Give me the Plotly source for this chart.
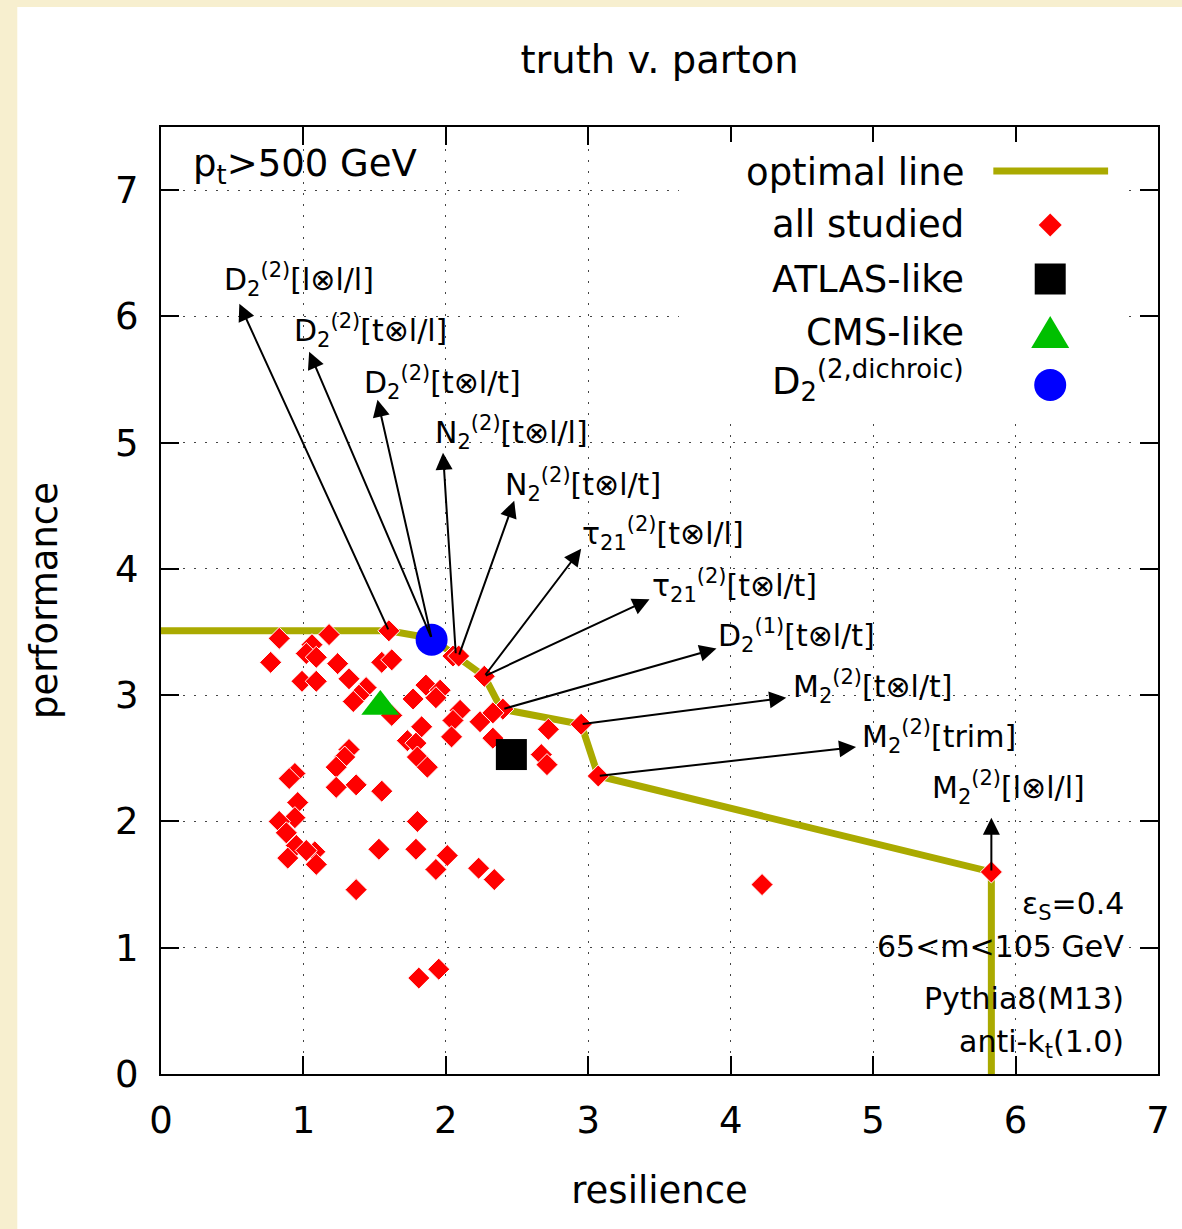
import plotly.graph_objects as go

# ---------------- data ----------------
studied_x = [0.83, 0.77, 1.06, 1.02, 1.09, 1.18, 1.24, 0.99, 1.09, 1.32,
             1.60, 1.55, 1.62, 1.44, 1.39, 1.35, 1.62, 2.05, 2.09, 2.27,
             1.77, 1.86, 1.96, 1.93, 2.10, 2.05, 2.04, 2.24, 1.83, 1.73,
             1.79, 1.80, 1.87, 1.32, 1.29, 0.94, 0.90, 1.23, 1.23, 1.37,
             1.55, 0.96, 0.94, 0.83, 1.80, 0.88, 0.95, 0.89, 1.08, 1.09,
             1.02, 1.53, 1.79, 2.01, 1.93, 2.23, 2.34, 1.37, 1.81, 1.95,
             2.40, 2.33, 2.33, 2.72, 2.95, 2.67, 2.71, 3.07, 4.22, 5.83]
studied_y = [3.45, 3.26, 3.40, 3.33, 3.30, 3.48, 3.25, 3.11, 3.11, 3.13,
             3.51, 3.26, 3.28, 3.06, 3.00, 2.95, 2.84, 3.31, 3.31, 3.15,
             2.97, 3.08, 3.04, 2.98, 2.88, 2.80, 2.67, 2.79, 2.75, 2.64,
             2.62, 2.51, 2.43, 2.57, 2.51, 2.38, 2.34, 2.43, 2.27, 2.29,
             2.24, 2.15, 2.03, 2.00, 2.00, 1.91, 1.81, 1.71, 1.76, 1.66,
             1.77, 1.78, 1.78, 1.73, 1.62, 1.63, 1.54, 1.46, 0.76, 0.83,
             2.89, 2.86, 2.66, 2.73, 2.77, 2.53, 2.45, 2.36, 1.50, 1.60]

optimal_x = [0.0, 1.60, 1.90, 2.08, 2.27, 2.39, 2.95, 3.07, 5.83, 5.83]
optimal_y = [3.51, 3.51, 3.45, 3.31, 3.15, 2.89, 2.77, 2.36, 1.60, 0.0]

atlas_x, atlas_y = [2.46], [2.53]
cms_x, cms_y = [1.54], [2.91]
dichroic_x, dichroic_y = [1.90], [3.44]

arrow_labels = [
    "D<sub>2</sub><sup>(2)</sup>[l⊗l/l]",
    "D<sub>2</sub><sup>(2)</sup>[t⊗l/l]",
    "D<sub>2</sub><sup>(2)</sup>[t⊗l/t]",
    "N<sub>2</sub><sup>(2)</sup>[t⊗l/l]",
    "N<sub>2</sub><sup>(2)</sup>[t⊗l/t]",
    "τ<sub>21</sub><sup>(2)</sup>[t⊗l/l]",
    "τ<sub>21</sub><sup>(2)</sup>[t⊗l/t]",
    "D<sub>2</sub><sup>(1)</sup>[t⊗l/t]",
    "M<sub>2</sub><sup>(2)</sup>[t⊗l/t]",
    "M<sub>2</sub><sup>(2)</sup>[trim]",
    "M<sub>2</sub><sup>(2)</sup>[l⊗l/l]",
]
arrow_tail_x = [1.60, 1.90, 1.90, 2.07, 2.09, 2.27, 2.27, 2.40, 2.95, 3.07, 5.83]
arrow_tail_y = [3.51, 3.45, 3.45, 3.32, 3.31, 3.15, 3.15, 2.89, 2.77, 2.36, 1.60]
arrow_head_x = [0.55, 1.04, 1.52, 1.98, 2.48, 2.95, 3.43, 3.90, 4.39, 4.88, 5.83]
arrow_head_y = [6.10, 5.72, 5.34, 4.92, 4.54, 4.16, 3.76, 3.37, 2.98, 2.59, 2.03]
label_x = [0.43, 0.92, 1.41, 1.91, 2.40, 2.94, 3.43, 3.90, 4.42, 4.91, 5.40]
label_y = [6.29, 5.89, 5.48, 5.08, 4.67, 4.28, 3.87, 3.47, 3.07, 2.67, 2.27]

x_ticks = [0, 1, 2, 3, 4, 5, 6, 7]
y_ticks = [0, 1, 2, 3, 4, 5, 6, 7]

FONT = "DejaVu Sans"
OLIVE = "#AAAA00"

fig = go.Figure()
fig.add_trace(go.Scatter(x=optimal_x, y=optimal_y, mode="lines",
                         line=dict(color=OLIVE, width=7), showlegend=False))
fig.add_trace(go.Scatter(x=studied_x, y=studied_y, mode="markers",
                         marker=dict(symbol="diamond", size=17, color="#FF0000",
                                     line=dict(color="white", width=1)),
                         showlegend=False))
fig.add_trace(go.Scatter(x=atlas_x, y=atlas_y, mode="markers",
                         marker=dict(symbol="square", size=31, color="black"),
                         showlegend=False))
fig.add_trace(go.Scatter(x=cms_x, y=cms_y, mode="markers",
                         marker=dict(symbol="triangle-up", size=33, color="#00C000"),
                         showlegend=False))
fig.add_trace(go.Scatter(x=dichroic_x, y=dichroic_y, mode="markers",
                         marker=dict(symbol="circle", size=32, color="#0000FF"),
                         showlegend=False))

annotations = []
for tx, ty, hx, hy in zip(arrow_tail_x, arrow_tail_y, arrow_head_x, arrow_head_y):
    annotations.append(dict(x=hx, y=hy, ax=tx, ay=ty, xref="x", yref="y",
                            axref="x", ayref="y", text="", showarrow=True,
                            arrowhead=2, arrowsize=1.7, arrowwidth=2,
                            arrowcolor="black", standoff=0, startstandoff=0))
for txt, lx, ly in zip(arrow_labels, label_x, label_y):
    annotations.append(dict(x=lx, y=ly, xref="x", yref="y", text=txt,
                            showarrow=False, xanchor="left", yanchor="middle",
                            font=dict(family=FONT, size=30, color="black")))

# legend (text right, symbol left as in the original)
L = 161.0; R = 1160.0; T = 127.0; B = 1074.0
def px(xp):
    return (xp - L) / (R - L)
def py(yp):
    return (B - yp) / (B - T)

legend_texts = ["optimal line", "all studied", "ATLAS-like", "CMS-like",
                "D<sub>2</sub><sup>(2,dichroic)</sup>"]
legend_rows = [172, 225, 279, 332, 380]
for t, r in zip(legend_texts, legend_rows):
    annotations.append(dict(x=px(968), y=py(r), xref="paper", yref="paper",
                            text=t, showarrow=False, xanchor="right", yanchor="middle",
                            font=dict(family=FONT, size=37, color="black")))

annotations.append(dict(x=px(191), y=py(166), xref="paper", yref="paper",
                        text="p<sub>t</sub>&gt;500 GeV", showarrow=False,
                        xanchor="left", yanchor="middle",
                        font=dict(family=FONT, size=37, color="black")))

info_texts = ["ε<sub>S</sub>=0.4", "65&lt;m&lt;105 GeV", "Pythia8(M13)",
              "anti-k<sub>t</sub>(1.0)"]
info_rows = [905, 946, 998, 1043]
for t, r in zip(info_texts, info_rows):
    annotations.append(dict(x=px(1128), y=py(r), xref="paper", yref="paper",
                            text=t, showarrow=False, xanchor="right", yanchor="middle",
                            font=dict(family=FONT, size=30, color="black")))

shapes = [
    # white panel on beige page
    dict(type="rect", xref="paper", yref="paper", x0=px(17), x1=px(1190),
         y0=py(1240), y1=py(7), fillcolor="white", line=dict(width=0), layer="below"),
    # opaque key box
    dict(type="rect", xref="paper", yref="paper", x0=px(680), x1=px(1128),
         y0=py(418), y1=py(142), fillcolor="white", line=dict(width=0), layer="above"),
    # key symbols
    dict(type="line", xref="paper", yref="paper", x0=px(995), x1=px(1110),
         y0=py(171), y1=py(171), line=dict(color=OLIVE, width=7), layer="above"),
    dict(type="path", xref="paper", yref="paper", xsizemode="pixel", ysizemode="pixel",
         xanchor=px(1052), yanchor=py(225),
         path="M 0,-11.5 L 11.5,0 L 0,11.5 L -11.5,0 Z",
         fillcolor="#FF0000", line=dict(width=0), layer="above"),
    dict(type="rect", xref="paper", yref="paper", xsizemode="pixel", ysizemode="pixel",
         xanchor=px(1052), yanchor=py(279), x0=-15.5, x1=15.5, y0=-15.5, y1=15.5,
         fillcolor="black", line=dict(width=0), layer="above"),
    dict(type="path", xref="paper", yref="paper", xsizemode="pixel", ysizemode="pixel",
         xanchor=px(1052), yanchor=py(332),
         path="M -19,-16 L 19,-16 L 0,16 Z",
         fillcolor="#00C000", line=dict(width=0), layer="above"),
    dict(type="circle", xref="paper", yref="paper", xsizemode="pixel", ysizemode="pixel",
         xanchor=px(1052), yanchor=py(385), x0=-16, x1=16, y0=-16, y1=16,
         fillcolor="#0000FF", line=dict(width=0), layer="above"),
]

axis_common = dict(
    showline=True, linewidth=2, linecolor="black", mirror="ticks",
    ticks="inside", ticklen=18, tickwidth=2, tickcolor="black",
    showgrid=True, gridcolor="#444444", gridwidth=1, griddash="2px,9px",
    zeroline=False, tickfont=dict(family=FONT, size=37, color="black"),
)

fig.update_layout(
    width=1182, height=1229,
    margin=dict(l=161, r=22, t=127, b=155),
    paper_bgcolor="#F7EFCF", plot_bgcolor="white",
    title=dict(text="truth v. parton", x=0.5, xref="paper", xanchor="center",
               y=1 - 60 / 1229, yref="container", yanchor="middle",
               font=dict(family=FONT, size=38.5, color="black")),
    xaxis=dict(range=[0, 7], tickvals=x_ticks, ticktext=[str(v) for v in x_ticks],
               title=dict(text="resilience", font=dict(family=FONT, size=37, color="black"),
                          standoff=36),
               ticklabelstandoff=13, **axis_common),
    yaxis=dict(range=[0, 7.5], tickvals=y_ticks, ticktext=[str(v) for v in y_ticks],
               title=dict(text="performance", font=dict(family=FONT, size=37, color="black"),
                          standoff=46),
               ticklabelstandoff=13, **axis_common),
    annotations=annotations, shapes=shapes, showlegend=False,
)

fig.write_html("out.html")
